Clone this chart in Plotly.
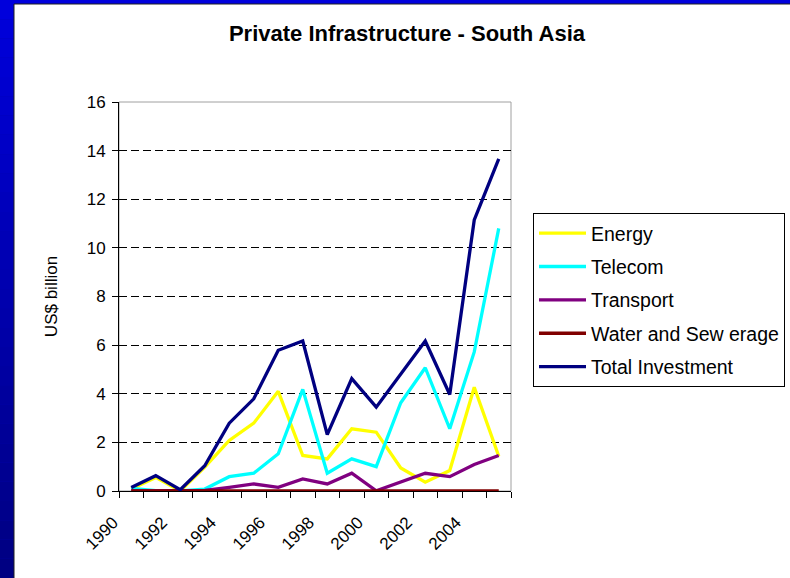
import plotly.graph_objects as go

# values (US$ billion)
years = [str(y) for y in range(1990, 2006)]
energy = [0.08, 0.56, 0.0, 0.98, 2.08, 2.79, 4.10, 1.46, 1.32, 2.56, 2.42, 0.95, 0.36, 0.84, 4.27, 1.43]
telecom = [0.11, 0.01, 0.0, 0.08, 0.59, 0.73, 1.53, 4.18, 0.73, 1.32, 1.00, 3.63, 5.07, 2.56, 5.72, 10.80]
transport = [0.0, 0.0, 0.0, 0.02, 0.15, 0.29, 0.15, 0.50, 0.29, 0.73, 0.01, 0.38, 0.73, 0.59, 1.09, 1.46]
water = [0.0] * 16
total = [0.14, 0.63, 0.05, 1.04, 2.79, 3.79, 5.79, 6.17, 2.32, 4.62, 3.45, 4.82, 6.17, 3.97, 11.15, 13.66]

series = [
    ("Energy", energy, "#FFFF00"),
    ("Telecom", telecom, "#00FFFF"),
    ("Transport", transport, "#800080"),
    ("Water and Sew erage", water, "#800000"),
    ("Total Investment", total, "#000080"),
]

W, H = 790, 578
L, R, T, B = 119, 511, 102, 491   # plot area in pixels


def px_x(p):
    return (p - L) / (R - L)


def px_y(p):
    return (B - p) / (B - T)


xs = list(range(len(years)))
fig = go.Figure()
for i, (name, vals, color) in enumerate(series):
    fig.add_trace(go.Scatter(
        x=xs, y=vals, name=name, mode="lines",
        line=dict(color=color, width=3.3),
        legendgroup=str(i),
    ))

shapes = []
# blue gradient frame on the left / top
n = 30
for k in range(n):
    f = k / (n - 1)
    c = "rgb(0,0,%d)" % int(220 - 90 * f)
    shapes.append(dict(type="rect", xref="paper", yref="paper",
                       x0=px_x(0), x1=px_x(W), y0=px_y(H * (k + 1) / n), y1=px_y(H * k / n),
                       fillcolor=c, line=dict(width=0), layer="below"))
# white slide area
shapes.append(dict(type="rect", xref="paper", yref="paper",
                   x0=px_x(14), x1=px_x(W + 2), y0=px_y(H + 2), y1=px_y(4),
                   fillcolor="white", line=dict(color="#202020", width=1), layer="below"))
# plot area border
shapes.append(dict(type="rect", xref="paper", yref="paper", x0=0, x1=1, y0=0, y1=1,
                   line=dict(color="#a0a0a0", width=1), layer="below"))

fig.update_layout(
    width=W, height=H,
    margin=dict(l=L, r=W - R, t=T, b=H - B, autoexpand=False),
    paper_bgcolor="#0000b0",
    plot_bgcolor="rgba(0,0,0,0)",
    font=dict(family="Liberation Sans, Arial, sans-serif", size=17, color="black"),
    title=dict(text="<b>Private Infrastructure - South Asia</b>", x=407 / W, xanchor="center",
               y=1 - 33 / H, yanchor="middle", font=dict(size=22)),
    shapes=shapes,
    showlegend=True,
    legend=dict(x=px_x(533), y=px_y(213), xanchor="left", yanchor="top",
                bordercolor="black", borderwidth=1, bgcolor="white",
                font=dict(size=19.5), tracegroupgap=5, traceorder="grouped",
                itemwidth=47),
)

fig.update_xaxes(
    range=[-0.5, len(years) - 0.5],
    tickvals=xs[::2], ticktext=years[::2], tickangle=-45,
    ticks="", showgrid=False, zeroline=False,
    ticklabelstandoff=14, ticklabelshift=-18,
    showline=True, linecolor="black", linewidth=1,
    tickfont=dict(size=17),
    minor=dict(tickvals=[v - 0.5 for v in range(len(years) + 1)], ticks="outside",
               ticklen=6, tickcolor="black", showgrid=False),
)
fig.update_yaxes(
    range=[0, 16], dtick=2, ticks="outside", ticklen=6, tickcolor="black",
    showgrid=True, gridcolor="black", griddash="8px,4px", gridwidth=1,
    zeroline=False, showline=True, linecolor="black", linewidth=1,
    tickfont=dict(size=17), ticklabelstandoff=3,
    title=dict(text="US$ billion", font=dict(size=17), standoff=24),
)

fig.write_html("out.html", config={"displayModeBar": False},
               post_script="document.body.style.margin='0';")
